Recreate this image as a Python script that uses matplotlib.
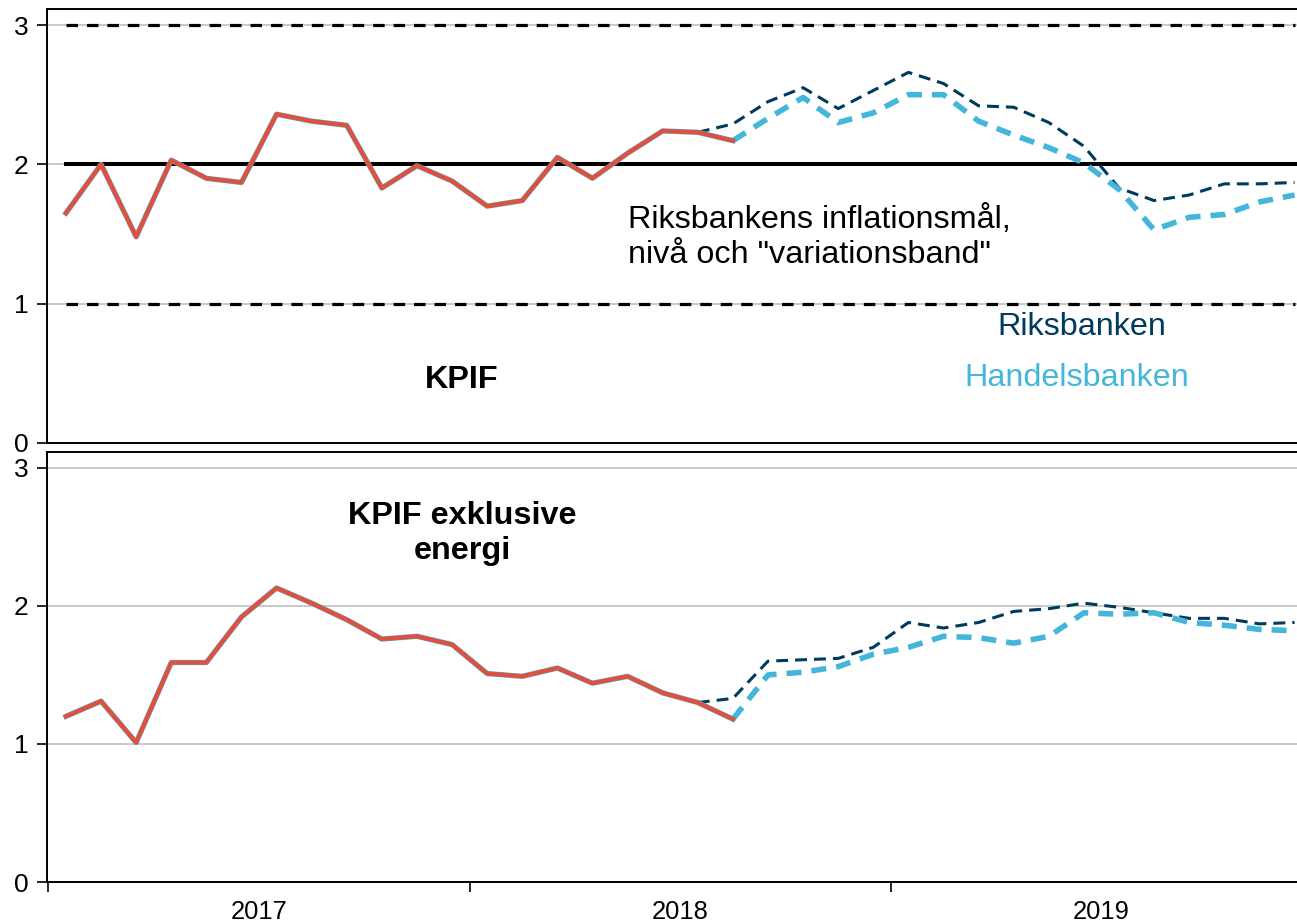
import matplotlib.pyplot as plt
import numpy as np

plt.rcParams['font.family'] = ['Liberation Sans', 'DejaVu Sans']

# months are counted from jan 2017 (0) to dec 2019 (35)
years = ["2017", "2018", "2019"]
n_months = 36

# KPIF, annual % change
kpif_actual = [1.65, 2.00, 1.48, 2.03, 1.90, 1.87, 2.36, 2.31, 2.28, 1.83,
               1.99, 1.88, 1.70, 1.74, 2.05, 1.90, 2.08, 2.24, 2.23, 2.17]
kpif_riks_start = 18
kpif_riks = [2.23, 2.29, 2.45, 2.55, 2.40, 2.53, 2.66, 2.58, 2.42, 2.41,
             2.30, 2.13, 1.83, 1.74, 1.78, 1.86, 1.86, 1.87]
kpif_shb_start = 19
kpif_shb = [2.17, 2.33, 2.48, 2.30, 2.37, 2.50, 2.50, 2.31, 2.21, 2.12,
            2.01, 1.82, 1.53, 1.62, 1.64, 1.73, 1.78]

# KPIF exklusive energi
kpifxe_actual = [1.20, 1.31, 1.01, 1.59, 1.59, 1.92, 2.13, 2.02, 1.90, 1.76,
                 1.78, 1.72, 1.51, 1.49, 1.55, 1.44, 1.49, 1.37, 1.30, 1.18]
kpifxe_riks_start = 18
kpifxe_riks = [1.30, 1.33, 1.60, 1.61, 1.62, 1.70, 1.88, 1.84, 1.88, 1.96,
               1.98, 2.02, 1.99, 1.95, 1.91, 1.91, 1.87, 1.88]
kpifxe_shb_start = 19
kpifxe_shb = [1.18, 1.50, 1.52, 1.56, 1.65, 1.70, 1.78, 1.77, 1.73, 1.78,
              1.95, 1.94, 1.95, 1.88, 1.86, 1.83, 1.82]

target = 2.0
band_low, band_high = 1.0, 3.0

RED = "#e0503a"
NAVY = "#003a5c"
LIGHT = "#45b6db"
EDGE = "#5aa8cf"
GRID = "#c0c0c0"

fig = plt.figure(figsize=(12.97, 9.23), dpi=100)
ax1 = fig.add_axes([47 / 1297, 1 - 443 / 923, 1 - 47 / 1297, (443 - 9) / 923])
ax2 = fig.add_axes([47 / 1297, 1 - 882 / 923, 1 - 47 / 1297, (882 - 452) / 923])

months = np.arange(n_months)


def draw_forecasts(ax, actual, riks_start, riks, shb_start, shb):
    xa = np.arange(len(actual))
    xr = np.arange(riks_start, riks_start + len(riks))
    xs = np.arange(shb_start, shb_start + len(shb))
    ax.plot(xr, riks, color=NAVY, lw=2.2, dashes=(3.9, 2.3), zorder=4)
    ax.plot(xs, shb, color=LIGHT, lw=4.0, dashes=(2.7, 1.8), zorder=5)
    ax.plot(xa, actual, color=EDGE, lw=3.8, zorder=6)
    ax.plot(xa, actual, color=RED, lw=3.0, zorder=7)


def style_axes(ax):
    ax.set_xlim(-0.54, 35.07)
    ax.set_ylim(0, 3.115)
    ax.set_yticks([0, 1, 2, 3])
    ax.set_yticklabels(["0", "1", "2", "3"])
    for y in [1, 2, 3]:
        ax.axhline(y, color=GRID, lw=1.2, zorder=1)
    ax.spines['right'].set_visible(False)
    for s in ['left', 'top', 'bottom']:
        ax.spines[s].set_linewidth(1.4)
    ax.tick_params(axis='y', length=7.2, width=1.2, pad=6, labelsize=19)


# top panel: KPIF with target and band
ax1.plot(months, [band_high] * n_months, color='black', lw=2.3, dashes=(3.6, 2.8), zorder=3)
ax1.plot(months, [band_low] * n_months, color='black', lw=2.3, dashes=(3.6, 2.8), zorder=3)
ax1.plot(months, [target] * n_months, color='black', lw=2.9, zorder=3)
draw_forecasts(ax1, kpif_actual, kpif_riks_start, kpif_riks, kpif_shb_start, kpif_shb)
style_axes(ax1)
ax1.tick_params(axis='x', bottom=False, labelbottom=False)

ax1.text(16.0, 1.475, 'Riksbankens inflationsmål,\nnivå och "variationsband"',
         ha='left', va='center', fontsize=23.3, linespacing=1.25)
ax1.text(28.95, 0.83, "Riksbanken", color=NAVY, ha='center', va='center', fontsize=23.3)
ax1.text(28.8, 0.47, "Handelsbanken", color=LIGHT, ha='center', va='center', fontsize=23.3)
ax1.text(11.28, 0.45, "KPIF", ha='center', va='center', fontsize=23.3, fontweight='bold')

# bottom panel: KPIF exkl energi
draw_forecasts(ax2, kpifxe_actual, kpifxe_riks_start, kpifxe_riks, kpifxe_shb_start, kpifxe_shb)
style_axes(ax2)
ax2.text(11.3, 2.525, "KPIF exklusive\nenergi", ha='center', va='center',
         fontsize=23.3, fontweight='bold', linespacing=1.18)

ax2.set_xticks([-0.5, 11.5, 23.5])
ax2.set_xticklabels([])
ax2.set_xticks([5.5, 17.5, 29.5], minor=True)
ax2.set_xticklabels(years, minor=True)
ax2.tick_params(axis='x', which='major', length=7.2, width=1.2)
ax2.tick_params(axis='x', which='minor', length=0, pad=13, labelsize=18.4)

fig.savefig("out.png", dpi=100)
